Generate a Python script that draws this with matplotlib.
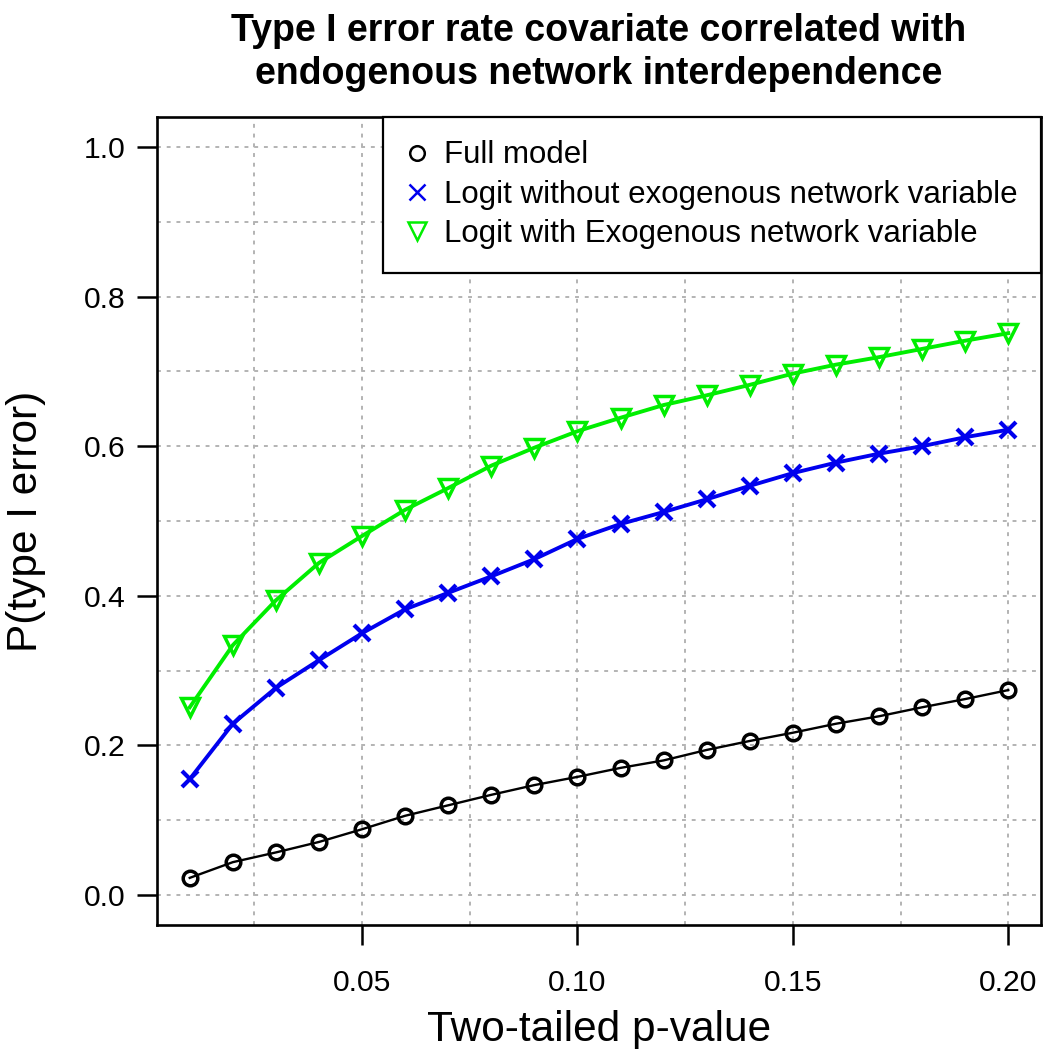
import numpy as np
from matplotlib import pyplot as plt
from matplotlib.lines import Line2D

p_values = [0.01, 0.02, 0.03, 0.04, 0.05, 0.06, 0.07, 0.08, 0.09, 0.10,
            0.11, 0.12, 0.13, 0.14, 0.15, 0.16, 0.17, 0.18, 0.19, 0.20]
full_model = [0.023, 0.044, 0.057, 0.071, 0.088, 0.106, 0.120, 0.134, 0.147, 0.158,
              0.170, 0.180, 0.194, 0.206, 0.217, 0.229, 0.239, 0.251, 0.262, 0.274]
logit_without = [0.155, 0.229, 0.277, 0.314, 0.350, 0.382, 0.404, 0.426, 0.449, 0.476,
                 0.496, 0.512, 0.529, 0.547, 0.564, 0.578, 0.590, 0.600, 0.612, 0.622]
logit_with = [0.251, 0.334, 0.394, 0.444, 0.480, 0.515, 0.544, 0.574, 0.598, 0.620,
              0.638, 0.655, 0.668, 0.682, 0.697, 0.709, 0.719, 0.730, 0.741, 0.751]
labels = ['Full model',
          'Logit without exogenous network variable',
          'Logit with Exogenous network variable']
x_ticks = [0.05, 0.10, 0.15, 0.20]
y_ticks = [0.0, 0.2, 0.4, 0.6, 0.8, 1.0]

plt.rcParams['font.family'] = ['Liberation Sans', 'DejaVu Sans']

W, H = 1043, 1049
fig = plt.figure(figsize=(W / 100, H / 100), dpi=100)
ax = fig.add_axes([157 / W, 1 - 925 / H, (1041 - 157) / W, (925 - 117) / H])

# grid first so the curves sit on top
for gx in np.arange(0.025, 0.2001, 0.025):
    ax.axvline(gx, color='#b3b3b3', lw=1.4, ls=(0, (2, 3)), zorder=0)
for gy in np.arange(0.0, 1.0001, 0.1):
    ax.axhline(gy, color='#b3b3b3', lw=1.4, ls=(0, (2, 3)), zorder=0)

ax.plot(p_values, full_model, color='black', lw=1.7, marker='o', ms=10.5,
        mfc='none', mec='black', mew=2.5)
ax.plot(p_values, logit_without, color='#0000ee', lw=2.8, marker='x', ms=12,
        mec='#0000ee', mew=3.0)
ax.plot(p_values, logit_with, color='#00ee00', lw=2.8, marker='v', ms=13,
        mfc='none', mec='#00ee00', mew=2.5)

span = 0.20 - 0.01
ax.set_xlim(0.01 - 0.04 * span, 0.20 + 0.04 * span)
ax.set_ylim(-0.04, 1.04)
ax.set_xticks(x_ticks)
ax.set_xticklabels(['%.2f' % v for v in x_ticks])
ax.set_yticks(y_ticks)
ax.set_yticklabels(['%.1f' % v for v in y_ticks])
ax.tick_params(axis='both', direction='out', length=14.5, width=1.8, labelsize=21.7,
               color='black')
ax.tick_params(axis='x', pad=17)
ax.tick_params(axis='y', pad=8)
for s in ax.spines.values():
    s.set_linewidth(1.9)

ax.set_xlabel('Two-tailed p-value', fontsize=30.5, va='top')
ax.xaxis.set_label_coords(0.5, (925 - 1010) / 808)
ax.set_ylabel('P(type I error)', fontsize=30.5)
ax.yaxis.set_label_coords((46 - 157) / 884, 0.5)
ax.set_title('Type I error rate covariate correlated with\nendogenous network interdependence',
             fontsize=27, fontweight='bold', pad=24, linespacing=1.25)

handles = [Line2D([], [], ls='none', marker='o', ms=10.5, mfc='none', mec='black', mew=1.8),
           Line2D([], [], ls='none', marker='x', ms=11, mec='#0000ee', mew=1.8),
           Line2D([], [], ls='none', marker='v', ms=13, mfc='none', mec='#00ee00', mew=1.8)]
leg = ax.legend(handles, labels, loc='upper right', fontsize=22.5, frameon=True,
                fancybox=False, borderaxespad=0, handlelength=0.7, handletextpad=0.5,
                borderpad=0.75, labelspacing=0.3, framealpha=1)
leg.get_frame().set_edgecolor('black')
leg.get_frame().set_linewidth(1.6)

fig.savefig('out.png', dpi=100)
